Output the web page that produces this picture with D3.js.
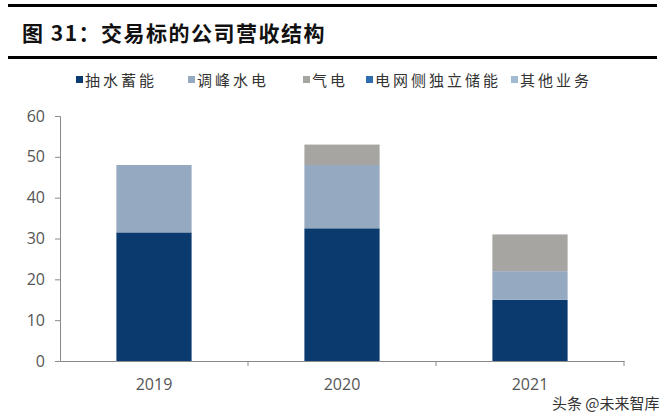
<!DOCTYPE html>
<html><head><meta charset="utf-8">
<script src="https://cdn.jsdelivr.net/npm/d3@7"></script>
<style>body{margin:0;background:#fff}svg{display:block}</style>
</head><body><svg id="c" width="665" height="415"></svg>
<script>
const categories = ["2019", "2020", "2021"];
const seriesNames = ["抽水蓄能", "调峰水电", "气电", "电网侧独立储能", "其他业务"];
const pumpedStorage = [31.5, 32.5, 15];
const peakHydro = [16.5, 15.5, 7];
const gasPower = [0, 5, 9];
const gridStorage = [0, 0, 0];
const otherBiz = [0, 0, 0];
const yTicks = [0, 10, 20, 30, 40, 50, 60];
const colors = ["#0B3A6F", "#95A9C0", "#A7A5A2", "#2F6CB0", "#A3BAD3"];

const svg = d3.select("#c");
const font = "'Noto Sans CJK SC', 'Noto Sans', sans-serif";

// title + rules
svg.append("rect").attr("x", 8).attr("y", 4).attr("width", 649).attr("height", 3).attr("fill", "#000");
svg.append("rect").attr("x", 8).attr("y", 56).attr("width", 649).attr("height", 3).attr("fill", "#000");
svg.append("text").attr("x", 22).attr("y", 41).attr("font-family", font).attr("font-weight", "bold")
  .attr("font-size", 21).attr("letter-spacing", 1.5).attr("fill", "#111").text("图 31：交易标的公司营收结构");

const rows = categories.map((c, i) => ({cat: c, s0: pumpedStorage[i], s1: peakHydro[i], s2: gasPower[i], s3: gridStorage[i], s4: otherBiz[i]}));
const keys = ["s0", "s1", "s2", "s3", "s4"];
const stacked = d3.stack().keys(keys)(rows);

const x = d3.scaleBand().domain(categories).range([60, 624]).padding(0);
const y = d3.scaleLinear().domain([0, 60]).range([361, 116]);
const barW = x.bandwidth() * 0.4;

const g = svg.append("g");
stacked.forEach((layer, li) => {
  g.selectAll(null).data(layer).enter().append("rect")
    .attr("x", d => x(d.data.cat) + (x.bandwidth() - barW) / 2)
    .attr("y", d => y(d[1]))
    .attr("width", barW)
    .attr("height", d => Math.max(0, y(d[0]) - y(d[1])))
    .attr("fill", colors[li]);
});

// y axis
const yAxis = svg.append("g").attr("transform", "translate(60,0)")
  .call(d3.axisLeft(y).tickValues(yTicks).tickSize(5).tickPadding(10));
yAxis.selectAll("path,line").attr("stroke", "#8a8a8a");
yAxis.selectAll("text").attr("font-family", "'Open Sans', 'DejaVu Sans', sans-serif").attr("font-size", 16).attr("fill", "#555");

// x axis
const xAxis = svg.append("g").attr("transform", "translate(0,361)")
  .call(d3.axisBottom(x).tickSize(0).tickPadding(18));
xAxis.select("path").attr("stroke", "#8a8a8a");
xAxis.selectAll("text").attr("font-family", "'Open Sans', 'DejaVu Sans', sans-serif").attr("font-size", 16).attr("fill", "#555");
// boundary ticks
const bounds = categories.slice(1).map(c => x(c)).concat([x.range()[1]]);
svg.append("g").selectAll("line").data(bounds).enter().append("line")
  .attr("x1", d => d).attr("x2", d => d).attr("y1", 361).attr("y2", 366).attr("stroke", "#8a8a8a");

// legend
const legendX = [76, 188, 303, 366, 511];
const lg = svg.append("g");
seriesNames.forEach((n, i) => {
  lg.append("rect").attr("x", legendX[i]).attr("y", 76).attr("width", 7).attr("height", 7).attr("fill", colors[i]);
  lg.append("text").attr("x", legendX[i] + 9).attr("y", 86).attr("font-family", font)
    .attr("font-size", 15).attr("letter-spacing", 3).attr("fill", "#333").text(n);
});

// watermark
svg.append("text").attr("x", 552).attr("y", 409).attr("font-family", font).attr("font-size", 15)
  .attr("fill", "#333").text("头条 @未来智库");
</script></body></html>
